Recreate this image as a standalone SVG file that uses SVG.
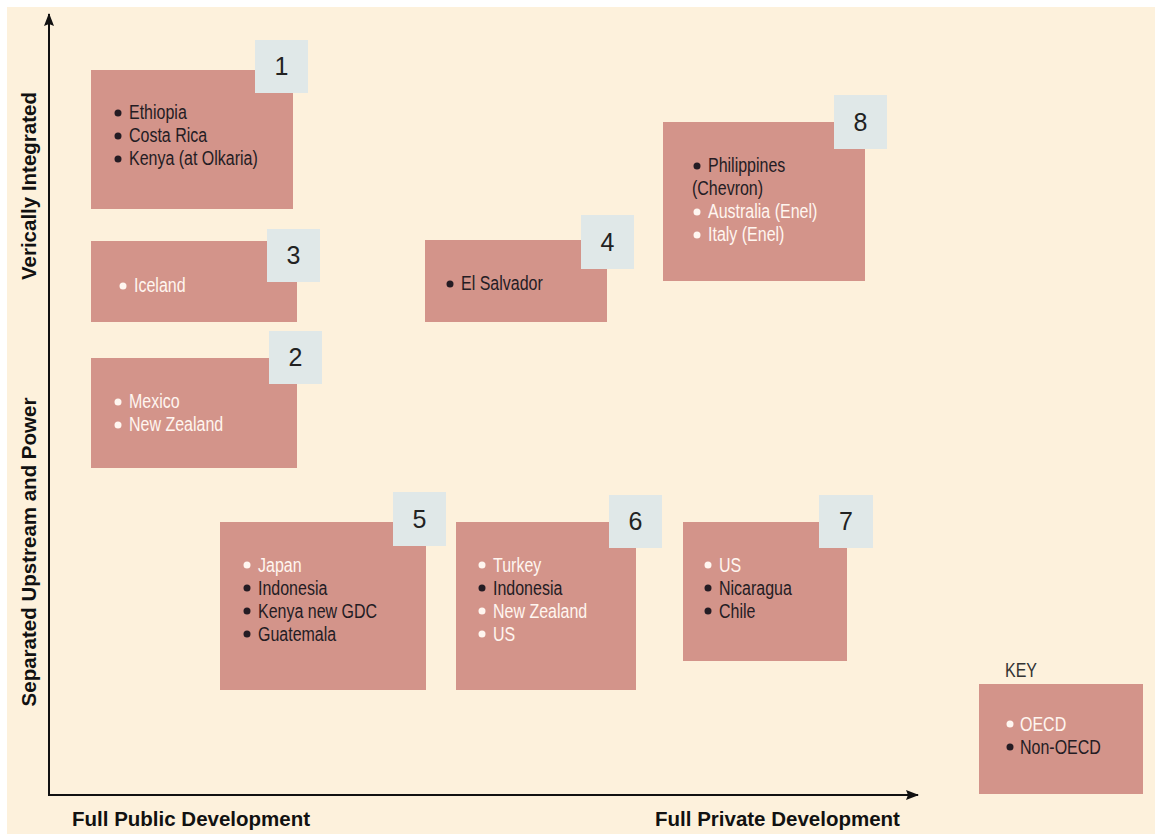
<svg xmlns="http://www.w3.org/2000/svg" width="1155" height="834" viewBox="0 0 1155 834">
<defs>
<marker id="arr" markerWidth="13" markerHeight="10" refX="12" refY="5" orient="auto" markerUnits="userSpaceOnUse">
<path d="M0,0 L13,5 L0,10 L2,5 Z" fill="#111"/>
</marker>
<style>
.box{fill:#D3948A}
.num{fill:#E0E8E8}
.nt{font-family:"Liberation Sans",Arial,sans-serif;font-size:25px;fill:#222;text-anchor:middle}
.lt{font-family:"Liberation Sans Narrow","Liberation Sans",sans-serif;font-size:19.5px}
.w{fill:#FFF6F0}
.b{fill:#241c24}
.ax{font-family:"Liberation Sans",Arial,sans-serif;font-size:20.5px;font-weight:bold;fill:#111}
</style>
</defs>
<rect width="1155" height="834" fill="#ffffff"/>
<rect x="7" y="7" width="1148" height="827" fill="#FDF1DC"/>

<g id="connectors" stroke="#111" stroke-width="2" fill="none">
<line x1="49" y1="795" x2="49" y2="14" marker-end="url(#arr)"/>
<line x1="48" y1="795" x2="918" y2="795" marker-end="url(#arr)"/>
</g>

<g id="axis-labels">
<text class="ax" transform="translate(36,186) rotate(-90)" text-anchor="middle">Verically Integrated</text>
<text class="ax" transform="translate(36,552) rotate(-90)" text-anchor="middle">Separated Upstream and Power</text>
<text class="ax" x="72" y="826">Full Public Development</text>
<text class="ax" x="655" y="826">Full Private Development</text>
</g>

<g id="node1">
<rect class="box" x="91" y="70" width="202" height="139"/>
<rect class="num" x="255" y="40" width="53" height="53"/>
<text class="nt" x="281.5" y="75">1</text>
<circle class="b" cx="118" cy="113" r="3.5"/><text class="lt b" transform="translate(129,119) scale(0.82,1)">Ethiopia</text>
<circle class="b" cx="118" cy="136" r="3.5"/><text class="lt b" transform="translate(129,142) scale(0.82,1)">Costa Rica</text>
<circle class="b" cx="118" cy="159" r="3.5"/><text class="lt b" transform="translate(129,165) scale(0.82,1)">Kenya (at Olkaria)</text>
</g>

<g id="node3">
<rect class="box" x="91" y="241" width="206" height="81"/>
<rect class="num" x="267" y="229" width="53" height="53"/>
<text class="nt" x="293.5" y="264">3</text>
<circle class="w" cx="123" cy="286" r="3.5"/><text class="lt w" transform="translate(134,292) scale(0.82,1)">Iceland</text>
</g>

<g id="node2">
<rect class="box" x="91" y="358" width="206" height="110"/>
<rect class="num" x="269" y="331" width="53" height="53"/>
<text class="nt" x="295.5" y="366">2</text>
<circle class="w" cx="118" cy="402" r="3.5"/><text class="lt w" transform="translate(129,408) scale(0.82,1)">Mexico</text>
<circle class="w" cx="118" cy="425" r="3.5"/><text class="lt w" transform="translate(129,431) scale(0.82,1)">New Zealand</text>
</g>

<g id="node4">
<rect class="box" x="425" y="240" width="182" height="82"/>
<rect class="num" x="581" y="215" width="53" height="54"/>
<text class="nt" x="607.5" y="251">4</text>
<circle class="b" cx="450" cy="284" r="3.5"/><text class="lt b" transform="translate(461,290) scale(0.82,1)">El Salvador</text>
</g>

<g id="node8">
<rect class="box" x="663" y="122" width="202" height="159"/>
<rect class="num" x="834" y="95" width="53" height="54"/>
<text class="nt" x="860.5" y="131">8</text>
<circle class="b" cx="697" cy="166" r="3.5"/><text class="lt b" transform="translate(708,172) scale(0.82,1)">Philippines</text>
<text class="lt b" transform="translate(692,195) scale(0.82,1)">(Chevron)</text>
<circle class="w" cx="697" cy="212" r="3.5"/><text class="lt w" transform="translate(708,218) scale(0.82,1)">Australia (Enel)</text>
<circle class="w" cx="697" cy="235" r="3.5"/><text class="lt w" transform="translate(708,241) scale(0.82,1)">Italy (Enel)</text>
</g>

<g id="node5">
<rect class="box" x="220" y="522" width="206" height="168"/>
<rect class="num" x="393" y="492" width="53" height="54"/>
<text class="nt" x="419.5" y="528">5</text>
<circle class="w" cx="247" cy="565" r="3.5"/><text class="lt w" transform="translate(258,572) scale(0.82,1)">Japan</text>
<circle class="b" cx="247" cy="588" r="3.5"/><text class="lt b" transform="translate(258,595) scale(0.82,1)">Indonesia</text>
<circle class="b" cx="247" cy="611" r="3.5"/><text class="lt b" transform="translate(258,618) scale(0.82,1)">Kenya new GDC</text>
<circle class="b" cx="247" cy="634" r="3.5"/><text class="lt b" transform="translate(258,641) scale(0.82,1)">Guatemala</text>
</g>

<g id="node6">
<rect class="box" x="456" y="522" width="180" height="168"/>
<rect class="num" x="609" y="495" width="53" height="53"/>
<text class="nt" x="635.5" y="530">6</text>
<circle class="w" cx="482" cy="565" r="3.5"/><text class="lt w" transform="translate(493,572) scale(0.82,1)">Turkey</text>
<circle class="b" cx="482" cy="588" r="3.5"/><text class="lt b" transform="translate(493,595) scale(0.82,1)">Indonesia</text>
<circle class="w" cx="482" cy="611" r="3.5"/><text class="lt w" transform="translate(493,618) scale(0.82,1)">New Zealand</text>
<circle class="w" cx="482" cy="634" r="3.5"/><text class="lt w" transform="translate(493,641) scale(0.82,1)">US</text>
</g>

<g id="node7">
<rect class="box" x="683" y="522" width="164" height="139"/>
<rect class="num" x="819" y="495" width="54" height="53"/>
<text class="nt" x="846" y="530">7</text>
<circle class="w" cx="708" cy="565" r="3.5"/><text class="lt w" transform="translate(719,572) scale(0.82,1)">US</text>
<circle class="b" cx="708" cy="588" r="3.5"/><text class="lt b" transform="translate(719,595) scale(0.82,1)">Nicaragua</text>
<circle class="b" cx="708" cy="611" r="3.5"/><text class="lt b" transform="translate(719,618) scale(0.82,1)">Chile</text>
</g>

<g id="key">
<text class="lt" transform="translate(1005,677) scale(0.82,1)" fill="#333">KEY</text>
<rect class="box" x="979" y="684" width="164" height="110"/>
<circle class="w" cx="1010" cy="724" r="3.5"/><text class="lt w" transform="translate(1020,731) scale(0.82,1)">OECD</text>
<circle class="b" cx="1010" cy="747" r="3.5"/><text class="lt b" transform="translate(1020,754) scale(0.82,1)">Non-OECD</text>
</g>
</svg>
